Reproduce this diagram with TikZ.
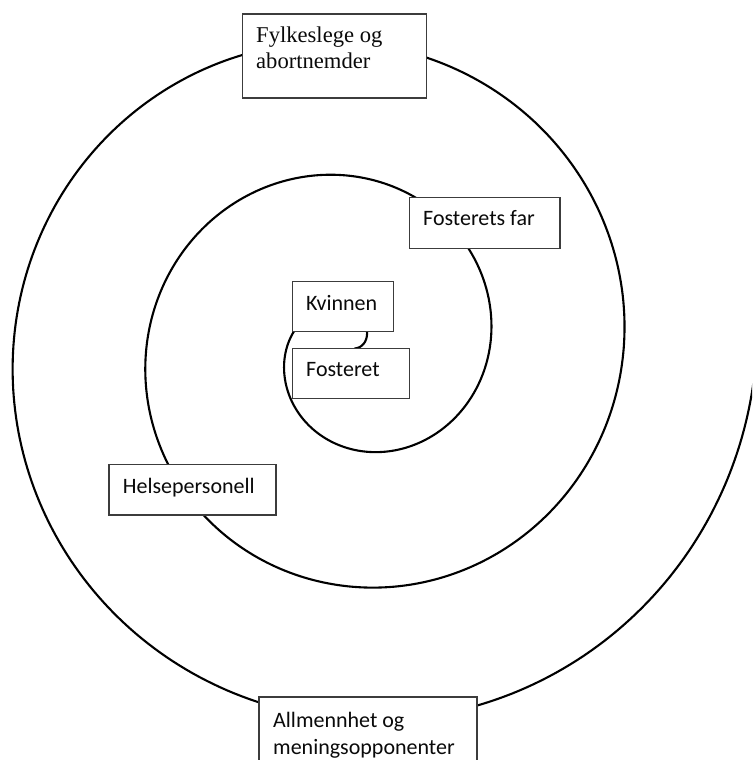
\documentclass[tikz,border=0pt]{standalone}
\usepackage{fontspec}
\setmainfont{Liberation Serif}
\newfontfamily\calib{Carlito}
\usetikzlibrary{calc}
\definecolor{boxgray}{HTML}{3C3C3C}
\definecolor{txt}{HTML}{0A0A0A}
\begin{document}
\begin{tikzpicture}[x=1pt,y=-1pt,
  declare function={sr(\s)=405-21.17*\s-8/((1+(\s-15.3)*(\s-15.3)/4)*(1+(\s-15.3)*(\s-15.3)/4));},
  spiral/.style={line width=2.1pt, black},
  box/.style={draw=boxgray, line width=1.5pt, fill=white, rectangle, inner sep=0pt, outer sep=0pt, anchor=north west},
  serif/.style={font=\fontsize{22.6}{27}\selectfont, anchor=base west, inner sep=0pt, text=txt},
  sans/.style={font=\calib\fontsize{22}{27}\selectfont, anchor=base west, inner sep=0pt, text=txt}]
\useasboundingbox (0,0) rectangle (752,760);
\fill[white] (0,0) rectangle (752,760);
\begin{scope}
\clip (0,0) rectangle (752,760);
\draw[spiral] plot[domain=-0.05:19, samples=900, variable=\t] ({351.75+sr(\t)*cos(\t r)}, {348+sr(\t)*sin(\t r)});
% boxes
\node[box, minimum width=184pt, minimum height=84pt] (fylke) at (242.7,14) {};
\node[box, minimum width=150.7pt, minimum height=50.6pt] (far) at (409.3,197.7) {};
\node[box, minimum width=167pt, minimum height=50.7pt] (helse) at (109,464.3) {};
\node[box, minimum width=100.6pt, minimum height=50pt] (kvinne) at (292.7,281.7) {};
\node[box, minimum width=116.6pt, minimum height=50pt] (foster) at (292.7,348.3) {};
\node[box, minimum width=218pt, minimum height=80pt] (allmenn) at (259,697) {};
% texts
\node[serif] (fylkeA) at (256,42.7) {Fylkeslege og};
\node[serif] (fylkeB) at (256,68.3) {abortnemder};
\node[sans] (farT) at (423,225.7) {Fosterets far};
\node[sans] (helseT) at (122.7,493.3) {Helsepersonell};
\node[sans] (kvT) at (306,310) {Kvinnen};
\node[sans] (foT) at (306,376.7) {Fosteret};
\node[sans] (alA) at (273,727.7) {Allmennhet og};
\node[sans] (alB) at (273,754.7) {meningsopponenter};
\end{scope}
\end{tikzpicture}
\end{document}
